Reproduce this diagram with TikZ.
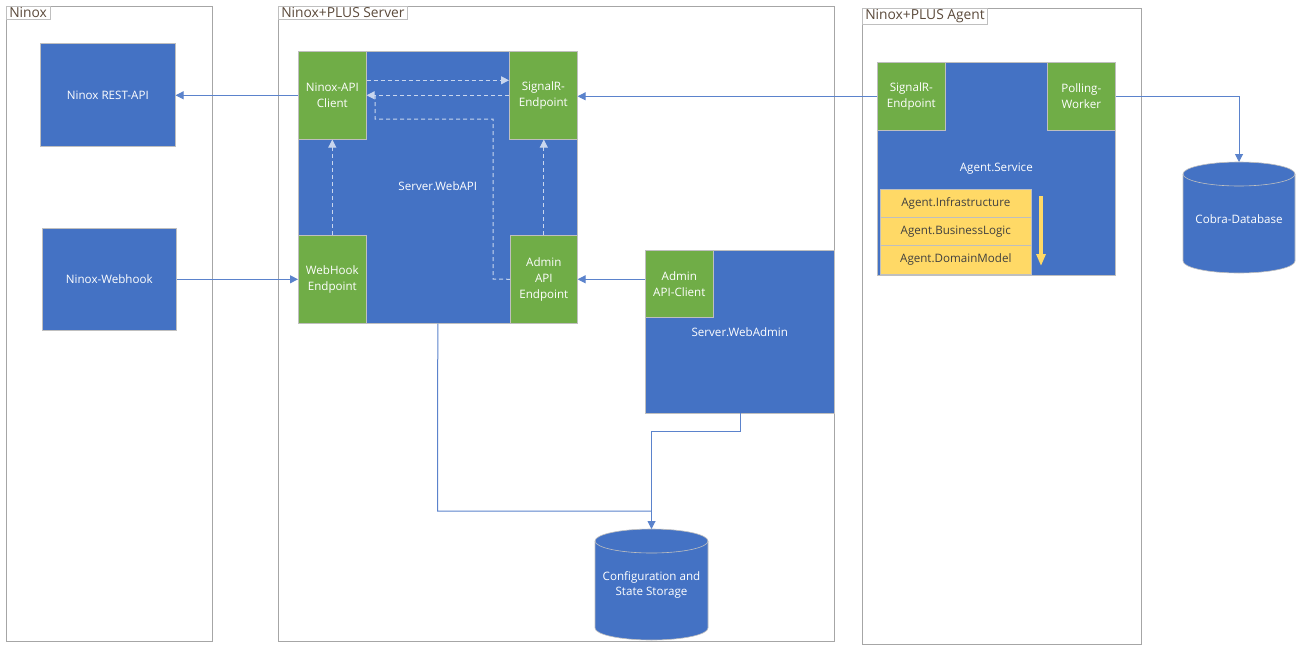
\documentclass[tikz,border=0pt]{standalone}
\usepackage{fontspec}
\setmainfont{Open Sans}
\usetikzlibrary{arrows.meta}
\definecolor{mblue}{HTML}{4472C4}
\definecolor{mgreen}{HTML}{70AD47}
\definecolor{myellow}{HTML}{FFD966}
\definecolor{connc}{HTML}{5B83CC}
\definecolor{dashc}{HTML}{C9D6EE}
\definecolor{framec}{HTML}{A6A6A6}
\definecolor{edgec}{HTML}{BFBFBF}
\definecolor{titlec}{HTML}{5B4A3B}
\definecolor{ytext}{HTML}{404040}
\begin{document}
\begin{tikzpicture}[x=1pt,y=-1pt,
  font=\fontsize{11.6}{15.8}\selectfont,
  container/.style={draw=framec, line width=1pt, anchor=north west, inner sep=0pt},
  titlebox/.style={draw=edgec, line width=0.6pt, fill=white, anchor=north west, text=titlec,
    font=\fontsize{13.8}{15}\selectfont, inner xsep=3pt, inner ysep=1.5pt},
  bluebox/.style={fill=mblue, draw=edgec, line width=0.6pt, text=white, anchor=north west,
    inner sep=0pt, align=center},
  greenbox/.style={fill=mgreen, draw=edgec, line width=0.6pt, text=white, anchor=north west,
    inner sep=0pt, align=center},
  yellowbox/.style={fill=myellow, draw=edgec, line width=0.6pt, text=ytext, anchor=north west,
    inner sep=0pt, align=center, minimum width=151pt},
  cyltext/.style={text=white, align=center, inner sep=0pt},
  cylshape/.style={fill=mblue, draw=edgec, line width=0.6pt},
  conn/.style={draw=connc, line width=1pt, -{Triangle[length=8pt,width=8pt]}},
  connplain/.style={draw=connc, line width=1pt},
  dashln/.style={draw=dashc, line width=1pt, dash pattern=on 4pt off 3pt, -{Triangle[length=8pt,width=8pt]}},
  dashplain/.style={draw=dashc, line width=1pt, dash pattern=on 4pt off 3pt},
  yarrow/.style={draw=myellow, line width=3.5pt, -{Triangle[length=12pt,width=9pt]}}
]
\useasboundingbox (0,0) rectangle (1297,645);
\fill[white] (0,0) rectangle (1297,645);

% containers
\node[container, minimum width=206pt, minimum height=635pt] (ninoxC) at (6,6) {};
\node[container, minimum width=556pt, minimum height=635pt] (serverC) at (278,6) {};
\node[container, minimum width=279pt, minimum height=636pt] (agentC) at (862,8) {};
\node[titlebox] (ninoxT) at (ninoxC.north west) {Ninox};
\node[titlebox] (serverT) at (serverC.north west) {Ninox+PLUS Server};
\node[titlebox] (agentT) at (agentC.north west) {Ninox+PLUS Agent};

% Ninox
\node[bluebox, minimum width=135pt, minimum height=103pt] (rest) at (40,43) {Ninox REST-API};
\node[bluebox, minimum width=134pt, minimum height=102pt] (webhook) at (42,228) {Ninox-Webhook};

% Server
\node[bluebox, minimum width=279pt, minimum height=272pt] (webapi) at (298,51) {\raisebox{3pt}{Server.WebAPI}};
\node[greenbox, minimum width=68pt, minimum height=88pt] (apiclient) at (298,51) {Ninox-API\\Client};
\node[greenbox, minimum width=68pt, minimum height=88pt] (srvsignalr) at (509,51) {SignalR-\\Endpoint};
\node[greenbox, minimum width=68pt, minimum height=88pt] (whendpoint) at (298,235) {WebHook\\Endpoint};
\node[greenbox, minimum width=67pt, minimum height=88pt] (adminep) at (510,235) {Admin\\API\\Endpoint};
\node[bluebox, minimum width=189pt, minimum height=163pt] (webadmin) at (645,250) {Server.WebAdmin};
\node[greenbox, minimum width=68pt, minimum height=67pt] (adminclient) at (645,250) {Admin\\API-Client};

% Agent
\node[bluebox, minimum width=238pt, minimum height=213pt] (agentsvc) at (877,62) {Agent.Service};
\node[greenbox, minimum width=68pt, minimum height=68pt] (agsignalr) at (877,62) {SignalR-\\Endpoint};
\node[greenbox, minimum width=68pt, minimum height=68pt] (polling) at (1047,62) {Polling-\\Worker};
\node[yellowbox, minimum height=28pt] (infra) at (880,189) {Agent.Infrastructure};
\node[yellowbox, minimum height=28pt] (blogic) at (880,217) {Agent.BusinessLogic};
\node[yellowbox, minimum height=29pt] (dmodel) at (880,245) {Agent.DomainModel};
\coordinate (ya1) at (1041,196);
\coordinate (ya2) at (1041,266);
\draw[yarrow] (ya1) -- (ya2);

% cylinders
\path[cylshape] (1183,174) -- (1183,261) arc[start angle=180, end angle=0, x radius=56, y radius=12]
  -- (1295,174) arc[start angle=0, end angle=-180, x radius=56, y radius=12] -- cycle;
\draw[edgec, line width=0.6pt] (1183,174) arc[start angle=180, end angle=0, x radius=56, y radius=12];
\node[cyltext] (cobra) at (1239,219) {Cobra-Database};
\coordinate (cobratop) at (1239,162);

\path[cylshape] (595,541) -- (595,628) arc[start angle=180, end angle=0, x radius=56.5, y radius=12]
  -- (708,541) arc[start angle=0, end angle=-180, x radius=56.5, y radius=12] -- cycle;
\draw[edgec, line width=0.6pt] (595,541) arc[start angle=180, end angle=0, x radius=56.5, y radius=12];
\node[cyltext] (config) at (651.5,585) {Configuration and\\State Storage};
\coordinate (configtop) at (651.5,529);

% connectors
\draw[conn] (apiclient.west) -- (apiclient.west -| rest.east);
\draw[conn] (webhook.east) -- (webhook.east -| whendpoint.west);
\draw[conn] (agsignalr.west) -- (agsignalr.west -| srvsignalr.east);
\draw[conn] (polling.east) -| (cobratop);
\draw[conn] (adminclient.west |- adminep.east) -- (adminep.east);
\draw[connplain] (webapi.south) -- (437.5,511) -- (651.5,511);
\draw[conn] (740,413) -- (740,431) -- (651.5,431) -- (configtop);

% dashed internal
\draw[dashln] ([yshift=15pt]apiclient.east) -- ([yshift=15pt]apiclient.east -| srvsignalr.west);
\draw[dashln] (srvsignalr.west) -- (srvsignalr.west -| apiclient.east);
\draw[dashplain] (adminep.west) -- (493,279) -- (493,119) -- (375,119) -- (375,95);
\draw[dashln] (whendpoint.north) -- (apiclient.south);
\draw[dashln] (adminep.north) -- (adminep.north |- srvsignalr.south);
\end{tikzpicture}
\end{document}
